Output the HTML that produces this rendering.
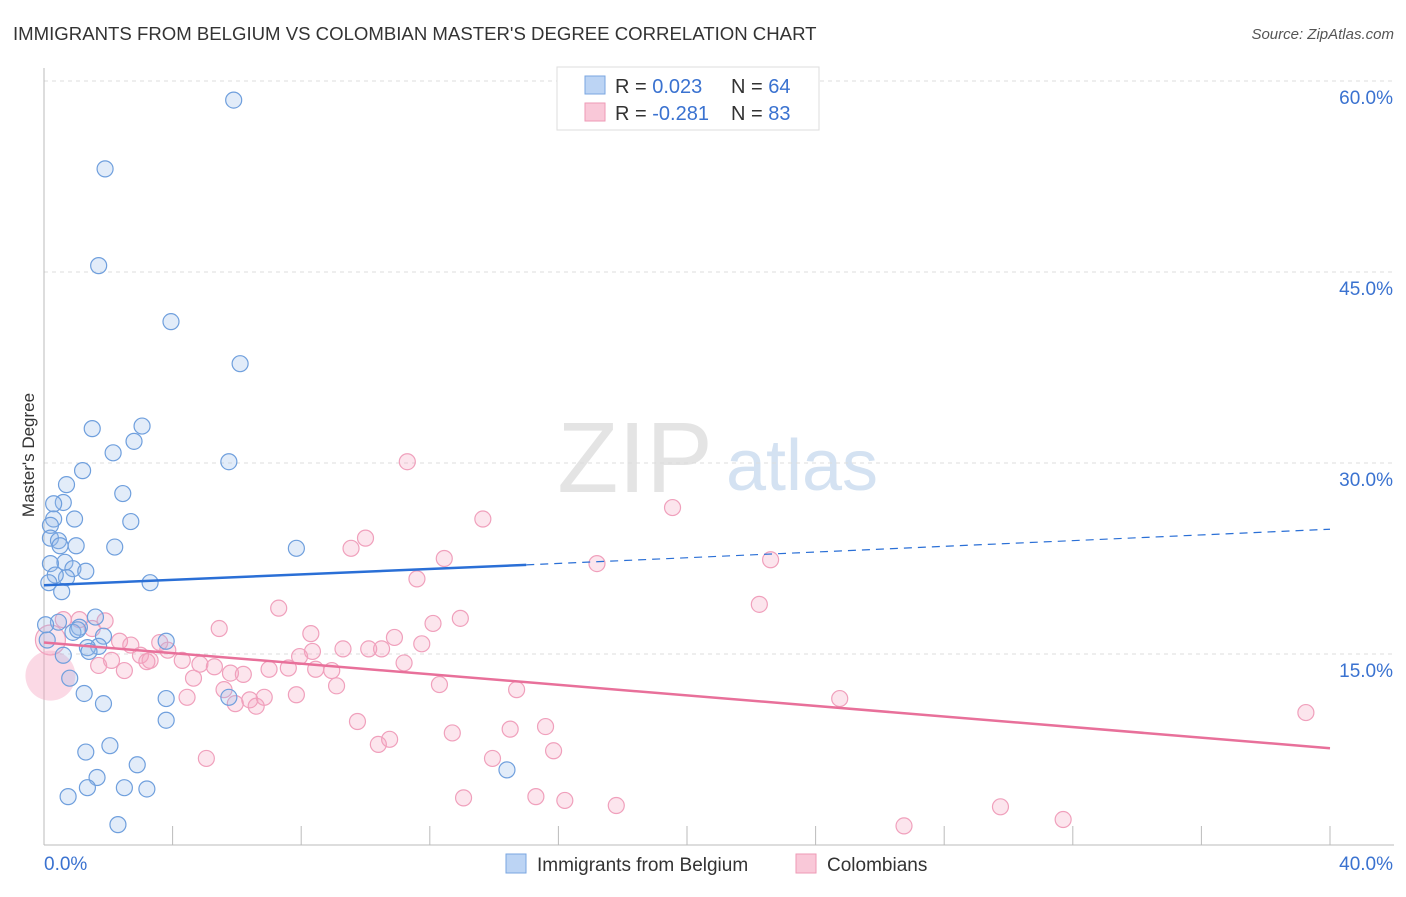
<!DOCTYPE html>
<html><head><meta charset="utf-8"><style>
body{margin:0;background:#fff;font-family:"Liberation Sans",sans-serif}
svg text{font-family:"Liberation Sans",sans-serif}
</style></head><body>
<svg id="c" width="1406" height="892" xmlns="http://www.w3.org/2000/svg">
<text x="13" y="40" font-size="18.6" fill="#333">IMMIGRANTS FROM BELGIUM VS COLOMBIAN MASTER'S DEGREE CORRELATION CHART</text>
<text x="1394" y="39" font-size="15" fill="#555" text-anchor="end" font-style="italic">Source: ZipAtlas.com</text>
<text x="635" y="492" font-size="100" fill="#e4e4e4" font-family="Liberation Serif" text-anchor="middle">ZIP</text>
<text x="802" y="490" font-size="72" fill="#d4e2f2" text-anchor="middle">atlas</text>
<text x="34" y="455" font-size="17" fill="#333" text-anchor="middle" transform="rotate(-90 34 455)">Master's Degree</text>
<g id="grid"></g><g id="pts"></g><g id="lines"></g>
<g>
<rect x="557" y="67" width="262" height="63" fill="#fff" stroke="#ddd"/>
<rect x="585" y="76" width="20" height="18" fill="#bcd4f4" stroke="#7aa6e0"/>
<rect x="585" y="103" width="20" height="18" fill="#f9c8d8" stroke="#ee9ab6"/>
<text x="615" y="93" font-size="20" fill="#333">R = <tspan fill="#3a72d0">0.023</tspan><tspan x="731">N = </tspan><tspan fill="#3a72d0">64</tspan></text>
<text x="615" y="120" font-size="20" fill="#333">R = <tspan fill="#3a72d0">-0.281</tspan><tspan x="731">N = </tspan><tspan fill="#3a72d0">83</tspan></text>
</g>
<g>
<rect x="506" y="854" width="20" height="19" fill="#bcd4f4" stroke="#7aa6e0"/>
<text x="537" y="871" font-size="19" fill="#333">Immigrants from Belgium</text>
<rect x="796" y="854" width="20" height="19" fill="#f9c8d8" stroke="#ee9ab6"/>
<text x="827" y="871" font-size="19" fill="#333">Colombians</text>
</g>
</svg>
<script>
const yTicks=[15,30,45,60];
const xTickLabels=["0.0%","40.0%"];
const blueX=[5.9,1.9,1.7,3.95,6.1,3.05,1.5,2.8,2.15,5.75,1.2,0.7,2.45,0.6,0.3,0.3,0.95,2.7,0.2,0.2,0.45,0.5,1.0,2.2,7.85,0.65,0.2,0.9,1.3,0.7,0.35,0.15,3.3,0.55,1.6,0.45,1.1,1.85,0.9,1.05,3.8,1.7,1.35,1.4,0.6,0.8,1.25,3.8,5.75,1.85,3.8,2.05,1.3,2.9,1.65,14.4,1.35,2.5,3.2,0.75,2.3,0.1,0.05];
const blueY=[58.5,53.1,45.5,41.1,37.8,32.9,32.7,31.7,30.8,30.1,29.4,28.3,27.6,26.9,26.8,25.6,25.6,25.4,25.1,24.1,23.9,23.5,23.5,23.4,23.3,22.2,22.1,21.7,21.5,21.0,21.2,20.6,20.6,19.9,17.9,17.5,17.1,16.4,16.7,16.9,16.0,15.6,15.5,15.2,14.9,13.1,11.9,11.5,11.6,11.1,9.8,7.8,7.3,6.3,5.3,5.9,4.5,4.5,4.4,3.8,1.6,16.1,17.3];
const pinkX=[11.3,13.65,19.55,10.0,9.55,12.45,17.2,22.6,11.6,22.25,7.3,12.95,12.1,5.45,8.3,10.9,11.75,9.3,10.5,10.1,8.35,7.95,11.2,1.9,1.1,0.6,1.5,2.35,2.7,3.6,3.85,3.0,3.3,2.1,4.3,4.85,5.3,1.7,2.5,3.2,5.8,6.2,7.0,7.6,8.45,8.95,4.65,5.6,9.1,12.3,14.7,4.45,6.85,7.85,6.4,5.95,6.6,24.75,39.25,9.75,15.6,14.5,12.7,10.75,10.4,15.85,5.05,13.95,13.05,15.3,16.2,17.8,29.75,31.7,26.75,0.2];
const pinkY=[30.1,25.6,26.5,24.1,23.3,22.5,22.1,22.4,20.9,18.9,18.6,17.8,17.4,17.0,16.6,16.3,15.8,15.4,15.4,15.4,15.2,14.8,14.3,17.6,17.7,17.7,17.0,16.0,15.7,15.9,15.3,14.9,14.5,14.5,14.5,14.2,14.0,14.1,13.7,14.4,13.5,13.4,13.8,13.9,13.8,13.7,13.1,12.2,12.5,12.6,12.2,11.6,11.6,11.8,11.4,11.1,10.9,11.5,10.4,9.7,9.3,9.1,8.8,8.3,7.9,7.4,6.8,6.8,3.7,3.8,3.5,3.1,3.0,2.0,1.5,16.1];
const bigPink=[[0.2,13.3]];
const blueTrend=[20.4,22.0,24.8]; // at x=0, 15, 40
const pinkTrend=[15.9,7.6]; // at x=0, 40
const NS="http://www.w3.org/2000/svg";
const X=v=>44+v/40*1286, Y=v=>845-v/15*191;
function mk(t,a,p){const e=document.createElementNS(NS,t);for(const k in a)e.setAttribute(k,a[k]);p.appendChild(e);return e;}
const g=document.getElementById('grid');
yTicks.forEach(t=>{const l=mk('line',{x1:44,x2:1394,y1:Y(t),y2:Y(t),stroke:'#ddd','stroke-dasharray':'4,4'},g);


const tx=mk('text',{x:1393,y:Y(t)+23,'font-size':19,fill:'#3a72d0','text-anchor':'end'},g);tx.textContent=t.toFixed(1)+'%';

});
mk('line',{x1:44,x2:44,y1:68,y2:845,stroke:'#bbb'},g);
mk('line',{x1:44,x2:1394,y1:845,y2:845,stroke:'#bbb'},g);
for(let i=1;i<=10;i++){const l=mk('line',{x1:X(i*4),x2:X(i*4),y1:826,y2:845,stroke:'#bbb'},g);

}
const t0=mk('text',{x:44,y:870,'font-size':19,fill:'#3a72d0'},g);t0.textContent=xTickLabels[0];


const t1=mk('text',{x:1393,y:870,'font-size':19,fill:'#3a72d0','text-anchor':'end'},g);t1.textContent=xTickLabels[1];


const p=document.getElementById('pts');
pinkX.forEach((x,i)=>{const c=mk('circle',{cx:X(x),cy:Y(pinkY[i]),r:i==pinkX.length-1?15:8,fill:'rgba(244,160,190,0.28)',stroke:'#f0a0bc','stroke-width':1.2},p);

});
bigPink.forEach(d=>{const c=mk('circle',{cx:X(d[0]),cy:Y(d[1]),r:25,fill:'rgba(244,160,190,0.4)',stroke:'none'},p);

});
blueX.forEach((x,i)=>{const c=mk('circle',{cx:X(x),cy:Y(blueY[i]),r:8,fill:'rgba(150,185,235,0.28)',stroke:'#6f9fdd','stroke-width':1.2},p);

});
const L=document.getElementById('lines');
const b1=mk('line',{x1:X(0),y1:Y(blueTrend[0]),x2:X(15),y2:Y(blueTrend[1]),stroke:'#2a6fd6','stroke-width':2.5},L);


const b2=mk('line',{x1:X(15),y1:Y(blueTrend[1]),x2:X(40),y2:Y(blueTrend[2]),stroke:'#2a6fd6','stroke-width':1.2,'stroke-dasharray':'8,6'},L);


const p1=mk('line',{x1:X(0),y1:Y(pinkTrend[0]),x2:X(40),y2:Y(pinkTrend[1]),stroke:'#e8709a','stroke-width':2.5},L);


</script>
</body></html>
